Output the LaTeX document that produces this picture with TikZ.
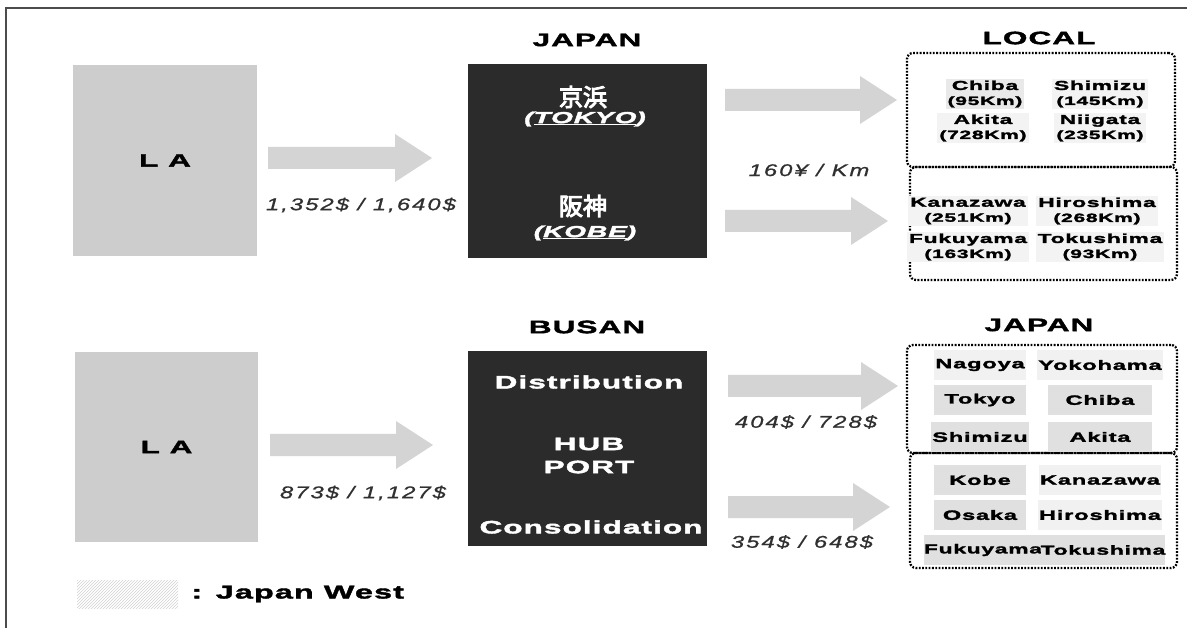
\documentclass[tikz,border=0pt]{standalone}
\usepackage{fontspec}
\setmainfont{Liberation Sans}
\newfontfamily\blk{Liberation Sans}[FakeStretch=1.75,LetterSpace=6,FakeBold=2.2]
\newfontfamily\nums{Liberation Sans}[FakeStretch=1.4,LetterSpace=12,FakeBold=0.8]
\newfontfamily\cjk{Noto Sans CJK JP}[FakeBold=4]
\usetikzlibrary{patterns}
\definecolor{darkbox}{HTML}{2B2B2B}
\definecolor{lafill}{HTML}{CDCDCD}
\definecolor{arrfill}{HTML}{D4D4D4}
\definecolor{cellfill}{HTML}{E0E0E0}
\definecolor{numcol}{HTML}{303030}
\newcommand\kmsize{\fontsize{12}{15}\selectfont}
\newcommand\blockarr[3]{\fill[blockarrow] (#1,#3-11) -- (#2-37,#3-11) -- (#2-37,#3-24) -- (#2,#3) -- (#2-37,#3+24) -- (#2-37,#3+11) -- (#1,#3+11) -- cycle;}
\begin{document}
\begin{tikzpicture}[x=1pt,y=-1pt,
  title/.style={font=\blk\bfseries\fontsize{18}{21}\selectfont},
  labox/.style={fill=lafill, inner sep=0, font=\blk\bfseries\fontsize{18}{21}\selectfont},
  hubbox/.style={fill=darkbox, minimum width=239, minimum height=194, inner sep=0},
  hubtxt/.style={text=white, font=\blk\bfseries\fontsize{18}{21}\selectfont},
  kanji/.style={text=white, font=\cjk\fontsize{24}{26}\selectfont},
  roman/.style={text=white, font=\blk\bfseries\itshape\fontsize{16}{19}\selectfont},
  region/.style={draw=black, line width=2.3pt, dash pattern=on 1.8pt off 1.5pt, rounded corners=6pt, inner sep=0},
  cell/.style={fill=cellfill, minimum height=30, inner sep=1pt, font=\blk\bfseries\fontsize{13.5}{15}\selectfont},
  cellpale/.style={cell, fill=cellfill!45},
  kmcell/.style={fill=cellfill!70, inner sep=2pt, align=center, font=\blk\bfseries\fontsize{13}{15}\selectfont},
  cost/.style={text=numcol, font=\nums\itshape\fontsize{17}{19}\selectfont},
  blockarrow/.style={fill=arrfill}
]
\useasboundingbox (0,0) rectangle (1187,628);
\fill[white] (0,0) rectangle (1187,628);
\draw[gray!60!black, line width=1.2pt] (6,628) -- (6,8) -- (1187,8);

% left boxes
\node[labox, minimum width=184, minimum height=191] (la1) at (165,160.5) {L A};
\node[labox, minimum width=183, minimum height=190] (la2) at (166.5,447) {L A};

% titles
\node[title] (t1) at (587,40) {JAPAN};
\node[title] (t2) at (1039,38) {LOCAL};
\node[title] (t3) at (587,327) {BUSAN};
\node[title] (t4) at (1039,325) {JAPAN};

% hub boxes
\node[hubbox] (japan) at (587.5,161) {};
\node[hubbox] (busan) at (587.5,448.5) {};
\node[kanji] (keihin) at (583,97) {京浜};
\node[roman] (tokyo) at (585,119) {(\underline{TOKYO})};
\node[kanji] (hanshin) at (583,206) {阪神};
\node[roman] (kobe) at (585,233) {(\underline{KOBE})};
\node[hubtxt] (distr) at (589,382) {Distribution};
\node[hubtxt] (hub) at (589,444) {HUB};
\node[hubtxt] (port) at (589,467) {PORT};
\node[hubtxt] (consol) at (591,527) {Consolidation};

% block arrows
\blockarr{268}{432}{158}
\blockarr{270}{433}{445}
\blockarr{725}{897}{100}
\blockarr{725}{888}{221}
\blockarr{728}{898}{386}
\blockarr{728}{890}{507}

% cost labels
\node[cost] (c1) at (361,205) {1,352\$ / 1,640\$};
\node[cost] (c2) at (363,493) {873\$ / 1,127\$};
\node[cost] (c3) at (809,170) {160¥ / Km};
\node[cost] (c4) at (806,422) {404\$ / 728\$};
\node[cost] (c5) at (802,542) {354\$ / 648\$};

% local regions
\node[region, minimum width=268, minimum height=114] (loc1) at (1041,110) {};
\node[region, minimum width=267, minimum height=113] (loc2) at (1043.5,223.5) {};
\node[kmcell] (chiba1) at (985,94) {Chiba\\{\kmsize (95Km)}};
\node[kmcell, fill=cellfill!40] (shimizu1) at (1100,94) {Shimizu\\{\kmsize (145Km)}};
\node[kmcell, fill=cellfill!40] (akita1) at (983,128) {Akita\\{\kmsize (728Km)}};
\node[kmcell, fill=cellfill!40] (niigata1) at (1100,128) {Niigata\\{\kmsize (235Km)}};
\node[kmcell, fill=cellfill!40] (kanazawa1) at (968,211) {Kanazawa\\{\kmsize (251Km)}};
\node[kmcell, fill=cellfill!40] (hiroshima1) at (1097,211) {Hiroshima\\{\kmsize (268Km)}};
\node[kmcell, fill=cellfill!40] (fukuyama1) at (968,247) {Fukuyama\\{\kmsize (163Km)}};
\node[kmcell, fill=cellfill!40] (tokushima1) at (1100,247) {Tokushima\\{\kmsize (93Km)}};

% japan regions
\node[region, minimum width=270, minimum height=108] (jp1) at (1042,399) {};
\node[region, minimum width=267, minimum height=115] (jp2) at (1043.5,510.5) {};
\node[cellpale, minimum width=92] (nagoya) at (980,365) {Nagoya};
\node[cellpale, minimum width=104] (yokohama) at (1100,365) {Yokohama};
\node[cell, minimum width=92] (tokyoc) at (980,400) {Tokyo};
\node[cell, minimum width=104] (chiba) at (1100,400) {Chiba};
\node[cell, minimum width=92] (shimizu) at (980,437) {Shimizu};
\node[cell, minimum width=104] (akita) at (1100,437) {Akita};
\node[cell, minimum width=92] (kobec) at (980,480) {Kobe};
\node[cellpale, minimum width=104] (kanazawa) at (1100,480) {Kanazawa};
\node[cell, minimum width=92] (osaka) at (980,515) {Osaka};
\node[cellpale, minimum width=104] (hiroshima) at (1100,515) {Hiroshima};
\node[cell, minimum width=92, inner sep=0, font=\blk\bfseries\fontsize{13}{15}\selectfont] (fukuyama) at (983,550) {Fukuyama};
\node[cell, minimum width=104, inner sep=0, font=\blk\bfseries\fontsize{13}{15}\selectfont] (tokushima) at (1103,550) {Tokushima};

% legend
\node[pattern=north east lines, pattern color=gray!35, minimum width=101, minimum height=28, inner sep=0] (swatch) at (127.5,594) {};
\node[anchor=west, font=\blk\bfseries\fontsize{18.5}{22}\selectfont] (legend) at (188,594) {: Japan West};
\end{tikzpicture}
\end{document}
